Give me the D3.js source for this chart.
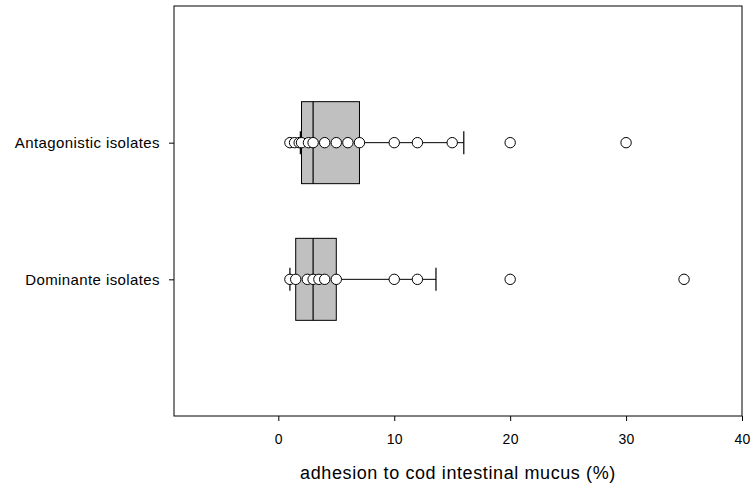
<!DOCTYPE html>
<html>
<head>
<meta charset="utf-8">
<script src="https://cdn.jsdelivr.net/npm/d3@7"></script>
<style>
  body { margin: 0; background: #fff; }
  text { font-family: "Liberation Sans", Arial, sans-serif; fill: #000; }
</style>
</head>
<body>
<div id="visual-container"></div>
<script>
// data
const categories = ["Antagonistic isolates", "Dominante isolates"]
const q1 = [2, 1.5]
const median = [3, 3]
const q3 = [7, 5]
const whiskerLow = [1.9, 1.0]
const whiskerHigh = [16, 13.6]
const antagonisticPoints = [1, 1.4, 1.8, 2, 2.6, 3, 4, 5, 6, 7, 10, 12, 15, 20, 30]
const dominantePoints = [1, 1.5, 2.5, 3, 3.5, 4, 5, 10, 12, 20, 35]
const xTicks = [0, 10, 20, 30, 40]
const xTitle = "adhesion to cod intestinal mucus (%)"

const width = 753
const height = 486
const plotLeft = 174, plotRight = 742, plotTop = 6, plotBottom = 416

const svg = d3.select('#visual-container')
              .append('svg')
              .attr('width', width)
              .attr('height', height)

const xScale = d3.scaleLinear()
                 .domain([-9, 40])
                 .range([plotLeft, plotRight])

const yScale = d3.scalePoint()
                 .domain(categories)
                 .range([plotTop, plotBottom])
                 .padding(1)

const boxHalf = 41
const capHalf = 11.5

// frame
svg.append('rect')
   .attr('x', plotLeft)
   .attr('y', plotTop)
   .attr('width', plotRight - plotLeft)
   .attr('height', plotBottom - plotTop)
   .attr('fill', 'none')
   .attr('stroke', '#000')
   .attr('stroke-width', 1)

const stats = categories.map((c, i) => ({
    cat: c, q1: q1[i], med: median[i], q3: q3[i], lo: whiskerLow[i], hi: whiskerHigh[i],
    pts: i === 0 ? antagonisticPoints : dominantePoints
}))

const groups = svg.selectAll('g.box')
    .data(stats)
    .enter()
    .append('g')
    .attr('class', 'box')

// whisker lines
groups.append('line')
    .attr('x1', d => xScale(d.lo))
    .attr('x2', d => xScale(d.hi))
    .attr('y1', d => yScale(d.cat))
    .attr('y2', d => yScale(d.cat))
    .attr('stroke', '#000')

groups.append('rect')
    .attr('x', d => xScale(d.q1))
    .attr('width', d => xScale(d.q3) - xScale(d.q1))
    .attr('y', d => yScale(d.cat) - boxHalf)
    .attr('height', boxHalf * 2)
    .attr('fill', '#c0c0c0')
    .attr('stroke', '#000')
    .attr('stroke-width', 1)

groups.append('line')
    .attr('x1', d => xScale(d.med))
    .attr('x2', d => xScale(d.med))
    .attr('y1', d => yScale(d.cat) - boxHalf)
    .attr('y2', d => yScale(d.cat) + boxHalf)
    .attr('stroke', '#000')
    .attr('stroke-width', 1.2)

// caps
groups.selectAll('line.cap')
    .data(d => [{ v: d.lo, cat: d.cat }, { v: d.hi, cat: d.cat }])
    .enter()
    .append('line')
    .attr('class', 'cap')
    .attr('x1', d => xScale(d.v))
    .attr('x2', d => xScale(d.v))
    .attr('y1', d => yScale(d.cat) - capHalf)
    .attr('y2', d => yScale(d.cat) + capHalf)
    .attr('stroke', '#000')
    .attr('stroke-width', 1.2)

// points
groups.selectAll('circle')
    .data(d => d.pts.map(v => ({ v: v, cat: d.cat })))
    .enter()
    .append('circle')
    .attr('cx', d => xScale(d.v))
    .attr('cy', d => yScale(d.cat))
    .attr('r', 5.2)
    .attr('fill', '#fff')
    .attr('stroke', '#000')
    .attr('stroke-width', 1)

// axes
const xAxis = d3.axisBottom(xScale)
                .tickValues(xTicks)
                .tickSizeInner(5)
                .tickSizeOuter(0)
                .tickPadding(23)

const gx = svg.append('g')
    .attr('transform', `translate(0, ${plotBottom})`)
    .call(xAxis)
gx.select('.domain').remove()
gx.attr('font-size', null)
gx.selectAll('text')
  .attr('dy', '0')
  .style('font-size', '14px')
  .style('font-family', '"Liberation Sans", Arial, sans-serif')
  .style('letter-spacing', '0.3px')

const yAxis = d3.axisLeft(yScale)
                .tickSizeInner(5)
                .tickSizeOuter(0)
                .tickPadding(9)

const gy = svg.append('g')
    .attr('transform', `translate(${plotLeft}, 0)`)
    .call(yAxis)
gy.select('.domain').remove()
gy.selectAll('text')
  .style('font-size', '15px')
  .style('font-family', '"Liberation Sans", Arial, sans-serif')
  .style('letter-spacing', '0.4px')

svg.append('text')
   .attr('x', (plotLeft + plotRight) / 2)
   .attr('y', 479)
   .attr('text-anchor', 'middle')
   .attr('font-size', 18)
   .style('letter-spacing', '0.6px')
   .text(xTitle)
</script>
</body>
</html>
